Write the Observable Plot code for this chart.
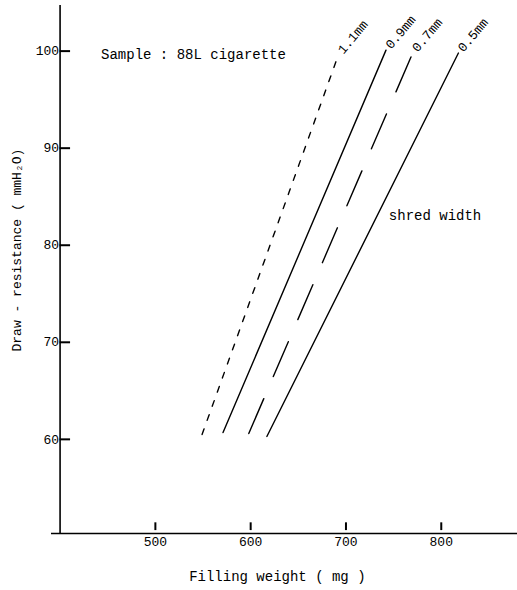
<!DOCTYPE html>
<html>
<head>
<meta charset="utf-8">
<script src="https://cdn.jsdelivr.net/npm/d3@7"></script>
<script src="https://cdn.jsdelivr.net/npm/@observablehq/plot@0.6"></script>
<style>
  html, body { margin: 0; padding: 0; background: #fff; }
  #chart svg { display: block; }
</style>
</head>
<body>
<div id="chart"></div>
<script>
// ---- data ----
const shredWidths = ["1.1mm", "0.9mm", "0.7mm", "0.5mm"];
const weightStart = [549, 571, 598, 617];   // filling weight (mg) at lower end
const weightEnd   = [692, 742, 770, 818];   // filling weight (mg) at upper end
const resStart    = [60.5, 60.7, 60.6, 60.3]; // draw resistance (mmH2O) at lower end
const resEnd      = [99.6, 100.1, 99.8, 99.8]; // draw resistance at upper end
const xTicks = [500, 600, 700, 800];
const yTicks = [60, 70, 80, 90, 100];
const xLabel = "Filling weight ( mg )";
const yLabel = "Draw - resistance ( mmH\u2082O)";
const sampleText = "Sample : 88L cigarette";
const legendText = "shred width";

// ---- styles ----
const dashes = ["6,9", null, "38,24", null];
const font = "'Liberation Mono', 'DejaVu Sans Mono', monospace";

const lines = [];
shredWidths.forEach((w, i) => {
  lines.push({w, x: weightStart[i], y: resStart[i]});
  lines.push({w, x: weightEnd[i], y: resEnd[i]});
});
const tops = shredWidths.map((w, i) => ({w, x: weightEnd[i], y: resEnd[i]}));

const xDomain = [391, 880];
const yDomain = [50.3, 104.7];
const xAxisAt = 400;

const marks = [
  // axes lines
  Plot.ruleX([xAxisAt], {y1: yDomain[0], y2: yDomain[1], stroke: "#000", strokeWidth: 1.6}),
  Plot.ruleY([yDomain[0]], {x1: xDomain[0], x2: xDomain[1], stroke: "#000", strokeWidth: 1.6}),
  // inward tick marks
  Plot.ruleY(yTicks, {x1: xAxisAt, x2: xAxisAt + 11, stroke: "#000", strokeWidth: 2}),
  Plot.ruleX(xTicks, {y1: yDomain[0] + 0.3, y2: yDomain[0] + 1.1, stroke: "#000", strokeWidth: 2}),
  // tick labels
  Plot.text(xTicks, {x: d => d, frameAnchor: "bottom", dy: 12, text: d => String(d),
    fontSize: 13, fontFamily: font, letterSpacing: -1.2, fill: "#000"}),
  Plot.text(yTicks, {y: d => d, x: xAxisAt, dx: -1, textAnchor: "end", text: d => String(d),
    fontSize: 13, fontFamily: font, letterSpacing: -1.2, fill: "#000"}),
];

// curves
shredWidths.forEach((w, i) => {
  marks.push(Plot.line(lines.filter(d => d.w === w), {
    x: "x", y: "y", stroke: "#000", strokeWidth: 1.4,
    strokeDasharray: dashes[i] || undefined
  }));
});

marks.push(
  Plot.text(tops, {x: "x", y: "y", text: "w", rotate: -50, textAnchor: "start", dx: 2, dy: -3,
    fontSize: 13, fontFamily: font, letterSpacing: -1, fill: "#000"}),
  Plot.text([sampleText], {x: 443, y: 99.6, text: d => d, textAnchor: "start",
    fontSize: 14, fontFamily: font, letterSpacing: 0.9, fill: "#000"}),
  Plot.text([legendText], {x: 745, y: 83.1, text: d => d, textAnchor: "start",
    fontSize: 14, fontFamily: font, letterSpacing: 1.4, fill: "#000"}),
  Plot.text([xLabel], {x: 628, frameAnchor: "bottom", dy: 47, text: d => d,
    fontSize: 14, fontFamily: font, letterSpacing: 0.4, fill: "#000"}),
  Plot.text([yLabel], {y: 79.5, x: xAxisAt, dx: -43, rotate: -90, text: d => d,
    fontSize: 13, fontFamily: font, letterSpacing: 0.2, fill: "#000"})
);

const chart = Plot.plot({
  width: 517,
  height: 590,
  marginLeft: 51,
  marginRight: 0,
  marginTop: 5,
  marginBottom: 57,
  x: {domain: xDomain, axis: null},
  y: {domain: yDomain, axis: null},
  style: {background: "#fff", color: "#000"},
  marks
});
document.getElementById("chart").appendChild(chart);
</script>
</body>
</html>
